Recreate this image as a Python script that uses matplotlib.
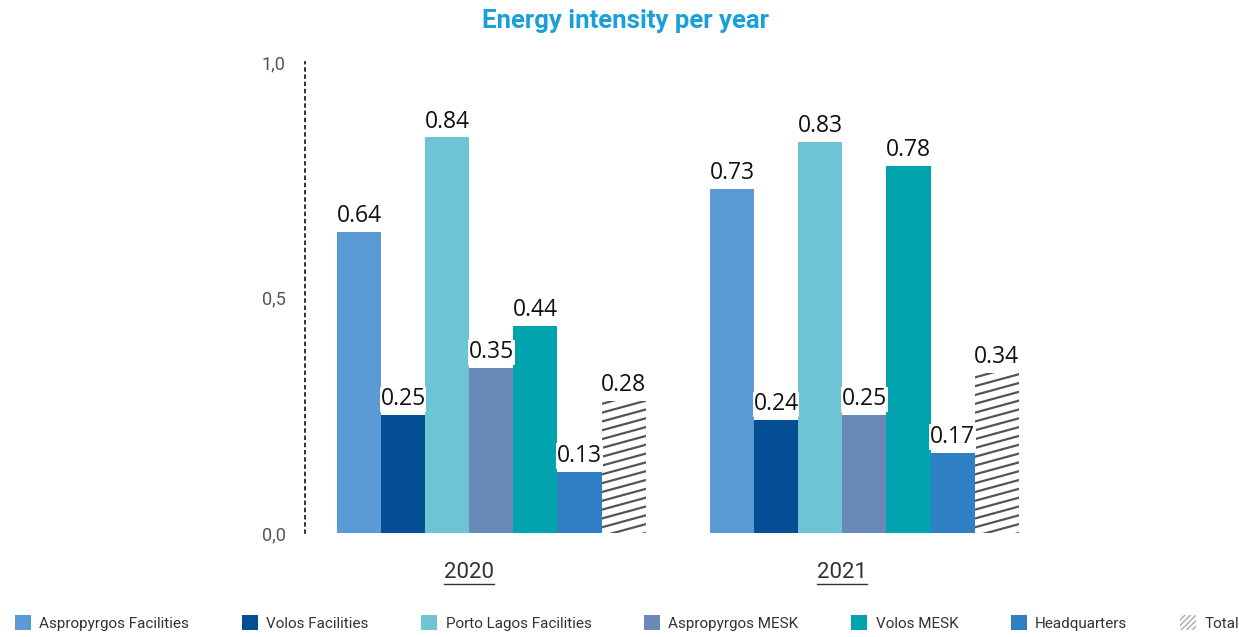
import matplotlib.pyplot as plt
from matplotlib.patches import Patch
from matplotlib.lines import Line2D
import numpy as np

years = ['2020', '2021']
sites = ['Aspropyrgos Facilities', 'Volos Facilities', 'Porto Lagos Facilities',
         'Aspropyrgos MESK', 'Volos MESK', 'Headquarters', 'Total']
values_2020 = [0.64, 0.25, 0.84, 0.35, 0.44, 0.13, 0.28]
values_2021 = [0.73, 0.24, 0.83, 0.25, 0.78, 0.17, 0.34]
colors = ['#5b9bd5', '#044f94', '#6cc4d4', '#6989b7', '#00a3ae', '#2f7fc4', 'white']
ytick_vals = [0.0, 0.5, 1.0]
ytick_labels = ['0,0', '0,5', '1,0']

narrow = ['Roboto', 'DejaVu Sans']
W, H = 1239, 637
fig = plt.figure(figsize=(W / 100, H / 100), dpi=100)
ax = fig.add_axes([305 / W, 104 / H, 745 / W, 471 / H])

group_start = [0.0, 8.46]
all_vals = [values_2020, values_2021]
total_bars = []
for g, vals in enumerate(all_vals):
    xs = group_start[g] + np.arange(len(vals))
    for i, (x, v) in enumerate(zip(xs, vals)):
        if sites[i] == 'Total':
            b = ax.bar(x, v, width=1.0, color='white', zorder=2)[0]
            total_bars.append(b)
        else:
            ax.bar(x, v, width=1.0, color=colors[i], zorder=2)
        ax.text(x, v + 0.008, f'{v:.2f}', ha='center', va='bottom',
                fontsize=16.5, family='Open Sans', color='#111111', zorder=4,
                bbox=dict(facecolor='white', edgecolor='none', pad=0.5))

ax.set_xlim(-1.226, 15.67)
ax.set_ylim(0, 1.0)

# slanted hatch lines for the Total bars, clipped to each bar
px_y = 470.0
for b in total_bars:
    x0, x1 = b.get_x(), b.get_x() + b.get_width()
    h = b.get_height()
    rise = 12 / px_y
    step = 8.8 / px_y
    for y in np.arange(-rise, h + step, step):
        ln = Line2D([x0, x1], [y, y + rise], color='#555555', lw=1.6, zorder=3)
        ax.add_line(ln)
        ln.set_clip_path(b)

# axes styling
for s in ['top', 'right', 'bottom']:
    ax.spines[s].set_visible(False)
ax.spines['left'].set_linestyle((0, (1.5, 2.5)))
ax.spines['left'].set_linewidth(1.3)
ax.spines['left'].set_color('#222222')
ax.set_yticks(ytick_vals)
ax.set_yticklabels(ytick_labels, family=narrow, fontsize=13, color='#555555')
ax.tick_params(axis='y', length=0, pad=14)

centers = [s + 2.5 for s in group_start]
ax.set_xticks(centers)
ax.set_xticklabels(years, family=narrow, fontsize=16, color='#333333')
ax.tick_params(axis='x', length=0, pad=21)

fig.text(0.505, 1 - 21 / H, 'Energy intensity per year', ha='center', va='center',
         family=narrow, fontweight='bold', fontsize=18.5, color='#1a9fd8')

handles = [Patch(facecolor=c, edgecolor='none') for c in colors[:-1]]
handles.append(Patch(facecolor='white', edgecolor='#aaaaaa', hatch='//////', lw=0))
fig.legend(handles, sites, ncol=7, mode='expand', loc='center',
           bbox_to_anchor=(15 / W, 3 / H, 1224 / W, 22 / H), frameon=False,
           prop={'family': narrow, 'size': 11}, labelcolor='#333333',
           handlelength=1.05, handleheight=1.05, handletextpad=0.55, borderpad=0,
           borderaxespad=0)

# underline the year labels
fig.canvas.draw()
renderer = fig.canvas.get_renderer()
for lab in ax.get_xticklabels():
    bb = lab.get_window_extent(renderer)
    yline = bb.y0 - 1
    fig.add_artist(Line2D([bb.x0 / W, bb.x1 / W], [yline / H, yline / H],
                          color='#333333', lw=1.0))

fig.savefig('out.png', dpi=100)
